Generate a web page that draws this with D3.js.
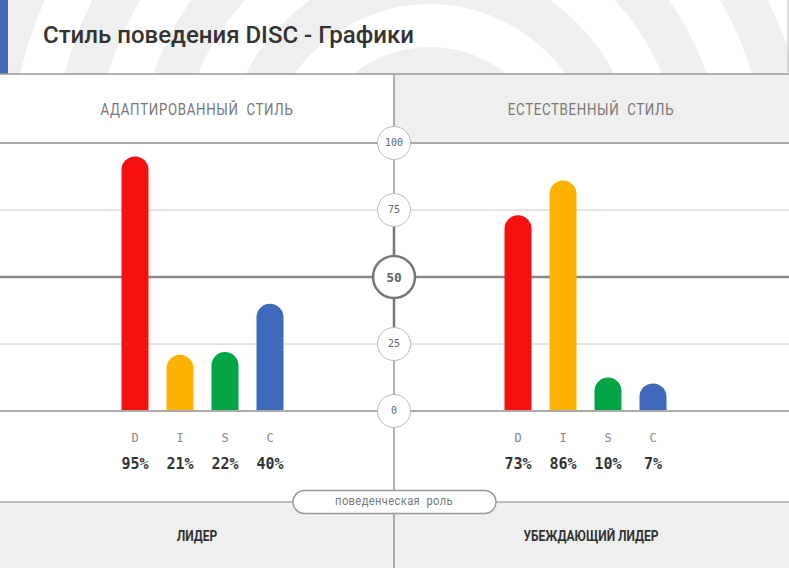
<!DOCTYPE html>
<html>
<head>
<meta charset="utf-8">
<script src="https://cdn.jsdelivr.net/npm/d3@7"></script>
<style>
  html, body { margin: 0; padding: 0; background: #fff; }
  svg { display: block; }
</style>
</head>
<body>
<svg id="chart"></svg>
<script>
// DISC data
const categories = ["D", "I", "S", "C"];
const colors = ["#f80f0f", "#feb300", "#00a443", "#3f6abc"];
const adaptedScores = [95, 21, 22, 40];
const naturalScores = [73, 86, 10, 7];
// bar levels as drawn in the picture (small natural bars sit a bit higher than their label)
const adaptedLevels = [95, 21, 22, 40];
const naturalLevels = [73, 86, 12.5, 10.3];
const tickValues = [0, 25, 50, 75, 100];

const panelTitles = ["АДАПТИРОВАННЫЙ  СТИЛЬ", "ЕСТЕСТВЕННЫЙ  СТИЛЬ"];
const roles = ["ЛИДЕР", "УБЕЖДАЮЩИЙ ЛИДЕР"];
const title = "Стиль поведения DISC - Графики";

const W = 789, H = 568;
const midX = 394;
const colX = [197, 591];
const mono = "'DejaVu Sans Mono', 'Liberation Mono', monospace";

const svg = d3.select("#chart").attr("width", W).attr("height", H);

// header with ring pattern
const clip = svg.append("clipPath").attr("id", "head-clip");
clip.append("rect").attr("x", 0).attr("y", 0).attr("width", W).attr("height", 74);
const head = svg.append("g").attr("clip-path", "url(#head-clip)");
head.append("rect").attr("width", W).attr("height", 74).attr("fill", "#fff");
head.selectAll("circle.ring")
  .data(d3.range(-2, 7))
  .enter()
  .append("circle")
  .attr("class", "ring")
  .attr("cx", 430)
  .attr("cy", 170)
  .attr("r", d => 272 + d * 85)
  .attr("fill", "none")
  .attr("stroke", "#efefef")
  .attr("stroke-width", 42);
svg.append("rect").attr("x", 0).attr("y", 0).attr("width", 8).attr("height", 74).attr("fill", "#3f68b8");
svg.append("line").attr("x1", 0).attr("x2", W).attr("y1", 74).attr("y2", 74)
  .attr("stroke", "#999").attr("stroke-width", 1.5);
svg.append("line").attr("x1", W - 1).attr("x2", W - 1).attr("y1", 0).attr("y2", 74)
  .attr("stroke", "#bbb").attr("stroke-width", 1);
svg.append("text")
  .attr("x", 43).attr("y", 43)
  .style("font-family", "Roboto, sans-serif")
  .style("font-size", "24px")
  .style("font-weight", 500)
  .attr("fill", "#333")
  .text(title);

// panel headers (condensed look through a horizontal squeeze)
svg.append("rect").attr("x", midX).attr("y", 75).attr("width", W - midX).attr("height", 67).attr("fill", "#efefef");
svg.selectAll("text.panel")
  .data(panelTitles)
  .enter()
  .append("text")
  .attr("class", "panel")
  .attr("transform", (d, i) => `translate(${colX[i]},115) scale(0.83,1)`)
  .attr("text-anchor", "middle")
  .style("font-family", "Roboto, sans-serif")
  .style("font-size", "16px")
  .style("letter-spacing", "0.8px")
  .style("white-space", "pre")
  .attr("fill", "#777")
  .text(d => d);

// bottom role area
svg.append("rect").attr("x", 0).attr("y", 502).attr("width", W).attr("height", H - 502).attr("fill", "#efefef");

// y scale
const y = d3.scaleLinear().domain([0, 100]).range([411, 143]);

// grid lines
const gridStyle = {
  0: { c: "#aaa", w: 2 },
  25: { c: "#ccc", w: 1 },
  50: { c: "#888", w: 2.5 },
  75: { c: "#ccc", w: 1 },
  100: { c: "#aaa", w: 2 }
};
svg.selectAll("line.grid")
  .data(tickValues)
  .enter()
  .append("line")
  .attr("class", "grid")
  .attr("x1", 0).attr("x2", W)
  .attr("y1", d => y(d)).attr("y2", d => y(d))
  .attr("stroke", d => gridStyle[d].c)
  .attr("stroke-width", d => gridStyle[d].w);

svg.append("line").attr("x1", 0).attr("x2", W).attr("y1", 502).attr("y2", 502)
  .attr("stroke", "#aaa").attr("stroke-width", 1.5);

// centre axis line
svg.append("line").attr("x1", midX).attr("x2", midX).attr("y1", 75).attr("y2", H)
  .attr("stroke", "#666").attr("stroke-width", 1);
svg.append("line").attr("x1", midX).attr("x2", midX).attr("y1", y(75)).attr("y2", y(25))
  .attr("stroke", "#777").attr("stroke-width", 2.5);

// bars
function drawGroup(levels, scores, x0) {
  const x = d3.scaleBand()
    .domain(categories)
    .range([x0, x0 + 180])
    .paddingInner(0.4)
    .paddingOuter(0.2);
  const bw = x.bandwidth();
  const r = bw / 2;
  const g = svg.append("g");
  g.selectAll("path.bar")
    .data(categories)
    .enter()
    .append("path")
    .attr("class", "bar")
    .attr("fill", (d, i) => colors[i])
    .attr("d", (d, i) => {
      const left = x(d), top = y(levels[i]), base = y(0) - 1;
      return `M${left},${base}V${top + r}A${r},${r} 0 0 1 ${left + bw},${top + r}V${base}Z`;
    });
  g.selectAll("text.cat")
    .data(categories)
    .enter()
    .append("text")
    .attr("class", "cat")
    .attr("x", d => x(d) + r)
    .attr("y", 442)
    .attr("text-anchor", "middle")
    .style("font-family", mono)
    .style("font-size", "12px")
    .attr("fill", "#888")
    .text(d => d);
  g.selectAll("text.pct")
    .data(scores)
    .enter()
    .append("text")
    .attr("class", "pct")
    .attr("x", (d, i) => x(categories[i]) + r)
    .attr("y", 469)
    .attr("text-anchor", "middle")
    .style("font-family", mono)
    .style("font-size", "15px")
    .style("font-weight", "bold")
    .attr("fill", "#333")
    .text(d => d + "%");
}
drawGroup(adaptedLevels, adaptedScores, 112.5);
drawGroup(naturalLevels, naturalScores, 495.5);

// tick bubbles on the centre axis
const ticks = svg.selectAll("g.tick")
  .data(tickValues)
  .enter()
  .append("g")
  .attr("class", "tick")
  .attr("transform", d => `translate(${midX},${y(d)})`);
ticks.append("circle")
  .attr("r", d => d === 50 ? 21 : 16.5)
  .attr("fill", "#fff")
  .attr("stroke", d => d === 50 ? "#777" : "#bbb")
  .attr("stroke-width", d => d === 50 ? 2.5 : 1);
ticks.append("text")
  .attr("text-anchor", "middle")
  .attr("dy", d => d === 50 ? "0.36em" : "0.34em")
  .style("font-family", mono)
  .style("font-size", d => d === 50 ? "13px" : "10px")
  .style("font-weight", d => d === 50 ? "bold" : "normal")
  .attr("fill", "#666")
  .text(d => d);

// role pill
svg.append("rect")
  .attr("x", 293).attr("y", 490.5)
  .attr("width", 203).attr("height", 23)
  .attr("rx", 11.5)
  .attr("fill", "#fff")
  .attr("stroke", "#999")
  .attr("stroke-width", 1.5);
svg.append("text")
  .attr("transform", `translate(${midX},505) scale(0.93,1)`)
  .attr("text-anchor", "middle")
  .style("font-family", "Roboto, sans-serif")
  .style("font-size", "12px")
  .style("letter-spacing", "0.4px")
  .style("white-space", "pre")
  .attr("fill", "#777")
  .text("поведенческая  роль");

svg.selectAll("text.role")
  .data(roles)
  .enter()
  .append("text")
  .attr("class", "role")
  .attr("transform", (d, i) => `translate(${colX[i]},541) scale(0.86,1)`)
  .attr("text-anchor", "middle")
  .style("font-family", "Roboto, sans-serif")
  .style("font-size", "14px")
  .style("font-weight", "bold")
  .attr("fill", "#333")
  .text(d => d);
</script>
</body>
</html>
